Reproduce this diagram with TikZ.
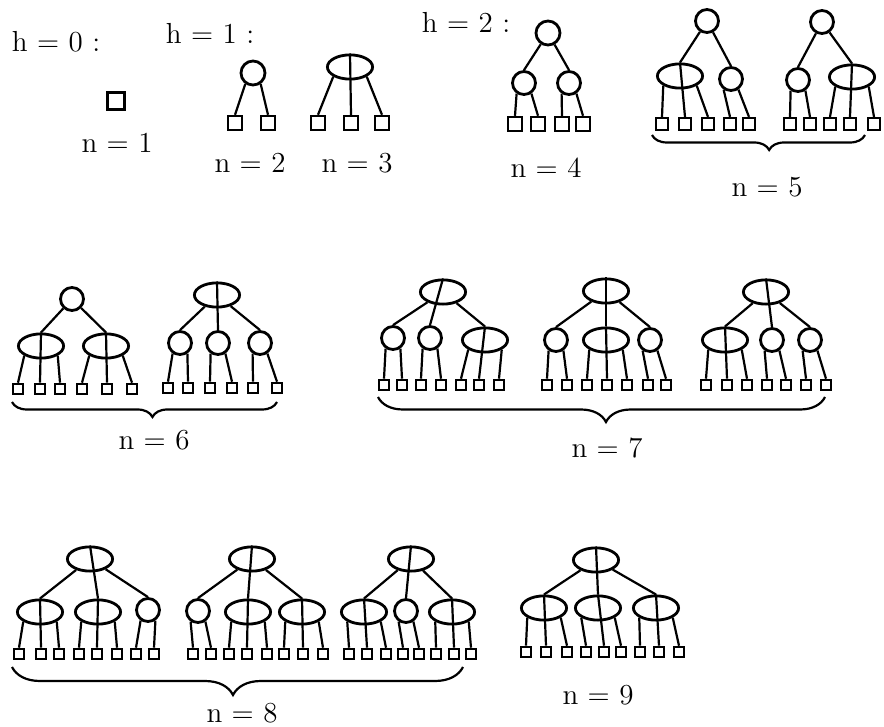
\documentclass[tikz,border=0pt]{standalone}
\usepackage{fontspec}
\usetikzlibrary{shapes.geometric,decorations.pathreplacing}

\begin{document}
\begin{tikzpicture}[
  x=0.5pt, y=-0.5pt,
  two/.style={draw, circle, line width=1.4pt, minimum size=11.5pt, inner sep=0pt},
  three/.style={draw, ellipse, line width=1.4pt, minimum width=22.6pt,
                minimum height=12.1pt, inner sep=0pt},
  leaf/.style={draw, line width=1.1pt, minimum size=5.2pt, inner sep=0pt},
  ln/.style={line width=1.1pt},
  brc/.style={line width=1.1pt, decorate, decoration={brace, mirror, amplitude=#1}},
  lbl/.style={font=\fontsize{14.5}{18}\selectfont, inner sep=0pt},
]
  \useasboundingbox (0,0) rectangle (884,727);

  \node[lbl] (h0) at (56,42) {h = 0 :};
  \node[lbl] (h1) at (210,33) {h = 1 :};
  \node[lbl] (h2) at (466,22) {h = 2 :};

  \node[leaf, line width=1.4pt, minimum size=8.6pt] (s1) at (116,101) {};
  \node[two, minimum size=12pt] (r2) at (253,73) {};
  \node[three] (r3) at (350,67) {};
  \node[two, minimum size=12pt] (r4) at (548,33) {};
  \node[two] (c4-1) at (524,83) {};
  \node[two] (c4-2) at (569,83) {};
  \node[two] (r5a) at (707,21) {};
  \node[three] (c5a-1) at (680,76) {};
  \node[two] (c5a-2) at (731,79) {};
  \node[two] (r5b) at (822,22) {};
  \node[two] (c5b-1) at (798,80) {};
  \node[three] (c5b-2) at (852,77) {};

  \foreach \x [count=\i] in {235,268} \node[leaf, minimum size=7.1pt] (l2-\i) at (\x,123) {};
  \foreach \x [count=\i] in {318,351,382} \node[leaf, minimum size=7.1pt] (l3-\i) at (\x,123) {};
  \foreach \x [count=\i] in {515,538,562,583} \node[leaf, minimum size=7.1pt] (l4-\i) at (\x,124) {};
  \foreach \x [count=\i] in {662,685,708,730,749} \node[leaf, minimum size=6pt] (l5a-\i) at (\x,124) {};
  \foreach \x [count=\i] in {790,810,830,850,874} \node[leaf, minimum size=6pt] (l5b-\i) at (\x,124) {};

  \node[two] (r6a) at (72,299) {};
  \node[three] (c6a-1) at (41,346) {};
  \node[three] (c6a-2) at (106,346) {};
  \node[three] (r6b) at (217,295) {};
  \node[two] (c6b-1) at (180,343) {};
  \node[two] (c6b-2) at (218,343) {};
  \node[two] (c6b-3) at (260,343) {};
  \node[three] (r7a) at (443,292) {};
  \node[two] (c7a-1) at (393,338) {};
  \node[two] (c7a-2) at (430,338) {};
  \node[three] (c7a-3) at (485,340) {};
  \node[three] (r7b) at (606,291) {};
  \node[two] (c7b-1) at (556,340) {};
  \node[three] (c7b-2) at (606,340) {};
  \node[two] (c7b-3) at (650,340) {};
  \node[three] (r7c) at (766,292) {};
  \node[three] (c7c-1) at (725,340) {};
  \node[two] (c7c-2) at (772,340) {};
  \node[two] (c7c-3) at (810,340) {};

  \foreach \x [count=\i] in {18,40,60,82,107,132} \node[leaf] (l6a-\i) at (\x,389) {};
  \foreach \x [count=\i] in {168,188,210,232,253,277} \node[leaf] (l6b-\i) at (\x,388) {};
  \foreach \x [count=\i] in {384,402,421,441,461,479,499} \node[leaf] (l7a-\i) at (\x,385) {};
  \foreach \x [count=\i] in {547,567,587,607,627,648,666} \node[leaf] (l7b-\i) at (\x,385) {};
  \foreach \x [count=\i] in {706,727,747,767,786,806,826} \node[leaf] (l7c-\i) at (\x,385) {};

  \node[three] (r8a) at (90,559) {};
  \node[three] (c8a-1) at (40,612) {};
  \node[three] (c8a-2) at (98,612) {};
  \node[two] (c8a-3) at (148,610) {};
  \node[three] (r8b) at (252,559) {};
  \node[two] (c8b-1) at (198,611) {};
  \node[three] (c8b-2) at (248,612) {};
  \node[three] (c8b-3) at (302,612) {};
  \node[three] (r8c) at (411,559) {};
  \node[three] (c8c-1) at (364,612) {};
  \node[two] (c8c-2) at (406,611) {};
  \node[three] (c8c-3) at (452,612) {};
  \node[three] (r9) at (596,560) {};
  \node[three] (c9-1) at (544,608) {};
  \node[three] (c9-2) at (598,608) {};
  \node[three] (c9-3) at (656,608) {};

  \foreach \x [count=\i] in {19,41,59,79,97,117,136,154} \node[leaf] (l8a-\i) at (\x,654) {};
  \foreach \x [count=\i] in {193,211,229,247,267,284,303,323} \node[leaf] (l8b-\i) at (\x,654) {};
  \foreach \x [count=\i] in {349,367,386,403,419,436,454,471} \node[leaf] (l8c-\i) at (\x,654) {};
  \foreach \x [count=\i] in {526,546,567,586,604,621,640,659,679} \node[leaf] (l9-\i) at (\x,652) {};

  \foreach \p/\a/\b in {r4/c4-1/c4-2, r5a/c5a-1/c5a-2, r5b/c5b-1/c5b-2, r6a/c6a-1/c6a-2}
  {
    \draw[ln] (\p) -- (\a.north);
    \draw[ln] (\p) -- (\b.north);
  }
  \foreach \p/\a/\b in {r2/l2-1/l2-2, c4-1/l4-1/l4-2, c4-2/l4-3/l4-4,
      c5a-2/l5a-4/l5a-5, c5b-1/l5b-1/l5b-2,
      c6b-1/l6b-1/l6b-2, c6b-2/l6b-3/l6b-4, c6b-3/l6b-5/l6b-6,
      c7a-1/l7a-1/l7a-2, c7a-2/l7a-3/l7a-4, c7b-1/l7b-1/l7b-2, c7b-3/l7b-6/l7b-7,
      c7c-2/l7c-4/l7c-5, c7c-3/l7c-6/l7c-7, c8a-3/l8a-7/l8a-8, c8b-1/l8b-1/l8b-2,
      c8c-2/l8c-4/l8c-5}
  {
    \draw[ln] (\p.-125) -- (\a.north);
    \draw[ln] (\p.-55) -- (\b.north);
  }
  \foreach \p/\a/\b/\c in {r6b/c6b-1/c6b-2/c6b-3, r7a/c7a-1/c7a-2/c7a-3,
      r7b/c7b-1/c7b-2/c7b-3, r7c/c7c-1/c7c-2/c7c-3, r8a/c8a-1/c8a-2/c8a-3,
      r8b/c8b-1/c8b-2/c8b-3, r8c/c8c-1/c8c-2/c8c-3, r9/c9-1/c9-2/c9-3}
  {
    \draw[ln] (\p) -- (\a.north);
    \draw[ln] (\p.north) -- (\b.north);
    \draw[ln] (\p) -- (\c.north);
  }
  \foreach \p/\a/\b/\c in {r3/l3-1/l3-2/l3-3, c5a-1/l5a-1/l5a-2/l5a-3, c5b-2/l5b-3/l5b-4/l5b-5,
      c6a-1/l6a-1/l6a-2/l6a-3, c6a-2/l6a-4/l6a-5/l6a-6,
      c7a-3/l7a-5/l7a-6/l7a-7, c7b-2/l7b-3/l7b-4/l7b-5, c7c-1/l7c-1/l7c-2/l7c-3,
      c8a-1/l8a-1/l8a-2/l8a-3, c8a-2/l8a-4/l8a-5/l8a-6, c8b-2/l8b-3/l8b-4/l8b-5,
      c8b-3/l8b-6/l8b-7/l8b-8, c8c-1/l8c-1/l8c-2/l8c-3, c8c-3/l8c-6/l8c-7/l8c-8,
      c9-1/l9-1/l9-2/l9-3, c9-2/l9-4/l9-5/l9-6, c9-3/l9-7/l9-8/l9-9}
  {
    \draw[ln] (\p.-150) -- (\a.north);
    \draw[ln] (\p.north) -- (\b.north);
    \draw[ln] (\p.-30) -- (\c.north);
  }

  \coordinate (b5l) at (652,135);  \coordinate (b5r) at (865,135);
  \coordinate (b6l) at (12,402);   \coordinate (b6r) at (277,402);
  \coordinate (b7l) at (378,397);  \coordinate (b7r) at (825,397);
  \coordinate (b8l) at (12,667);   \coordinate (b8r) at (463,667);
  \draw[brc=7.5pt, decoration={aspect=0.55}] (b5l) -- (b5r);
  \draw[brc=7.5pt, decoration={aspect=0.53}] (b6l) -- (b6r);
  \draw[brc=12.5pt, decoration={aspect=0.51}] (b7l) -- (b7r);
  \draw[brc=14pt, decoration={aspect=0.49}] (b8l) -- (b8r);

  \node[lbl] (n1) at (117,143) {n = 1};
  \node[lbl] (n2) at (250,163) {n = 2};
  \node[lbl] (n3) at (357,163) {n = 3};
  \node[lbl] (n4) at (546,168) {n = 4};
  \node[lbl] (n5) at (767,187) {n = 5};
  \node[lbl] (n6) at (154,440) {n = 6};
  \node[lbl] (n7) at (607,448) {n = 7};
  \node[lbl] (n8) at (242,713) {n = 8};
  \node[lbl] (n9) at (598,695) {n = 9};
\end{tikzpicture}
\end{document}
